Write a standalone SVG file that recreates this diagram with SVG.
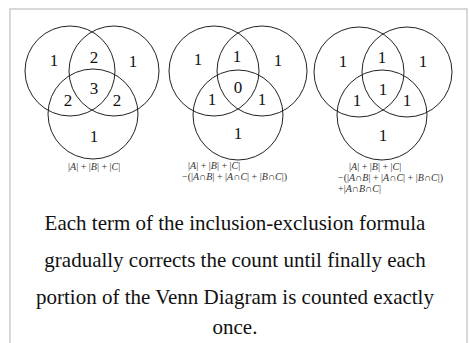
<svg xmlns="http://www.w3.org/2000/svg" width="469" height="343" viewBox="0 0 469 343">
<style>
.c{fill:none;stroke:#222;stroke-width:1}
.n{font-family:"Liberation Serif","DejaVu Serif",serif;font-size:17px;fill:#111;text-anchor:middle}
.f{font-family:"Liberation Serif","DejaVu Serif",serif;font-size:10px;fill:#333}
.f tspan.i{font-style:italic}
.cap{font-family:"Liberation Serif","DejaVu Serif",serif;font-size:21px;fill:#111;text-anchor:middle}
</style>
<rect width="469" height="343" fill="#fff"/>
<path d="M10,343 V9 H467 V343" fill="none" stroke="#ccc" stroke-width="1.5"/>
<g id="venn1">
<circle class="c" cx="70" cy="71" r="45"/>
<circle class="c" cx="114" cy="71" r="45"/>
<circle class="c" cx="93" cy="114" r="45"/>
<text class="n" x="54" y="66">1</text>
<text class="n" x="94" y="63">2</text>
<text class="n" x="133" y="67">1</text>
<text class="n" x="94" y="94">3</text>
<text class="n" x="68" y="106">2</text>
<text class="n" x="117" y="106">2</text>
<text class="n" x="94" y="142">1</text>
<text class="f" x="68" y="170">|<tspan class="i">A</tspan>| + |<tspan class="i">B</tspan>| + |<tspan class="i">C</tspan>|</text>
</g>
<g id="venn2">
<circle class="c" cx="214" cy="71" r="45"/>
<circle class="c" cx="262" cy="71" r="45"/>
<circle class="c" cx="238" cy="115" r="45"/>
<text class="n" x="198" y="65">1</text>
<text class="n" x="237" y="62">1</text>
<text class="n" x="278" y="66">1</text>
<text class="n" x="238" y="93">0</text>
<text class="n" x="212" y="105">1</text>
<text class="n" x="262" y="105">1</text>
<text class="n" x="238" y="139">1</text>
<text class="f" x="188" y="169">|<tspan class="i">A</tspan>| + |<tspan class="i">B</tspan>| + |<tspan class="i">C</tspan>|</text>
<text class="f" x="182" y="180">−(|<tspan class="i">A</tspan>∩<tspan class="i">B</tspan>| + |<tspan class="i">A</tspan>∩<tspan class="i">C</tspan>| + |<tspan class="i">B</tspan>∩<tspan class="i">C</tspan>|)</text>
</g>
<g id="venn3">
<circle class="c" cx="359" cy="72" r="45"/>
<circle class="c" cx="407" cy="72" r="45"/>
<circle class="c" cx="382" cy="115" r="45"/>
<text class="n" x="343" y="67">1</text>
<text class="n" x="382" y="63">1</text>
<text class="n" x="423" y="67">1</text>
<text class="n" x="383" y="95">1</text>
<text class="n" x="357" y="106">1</text>
<text class="n" x="407" y="106">1</text>
<text class="n" x="383" y="141">1</text>
<text class="f" x="349" y="170">|<tspan class="i">A</tspan>| + |<tspan class="i">B</tspan>| + |<tspan class="i">C</tspan>|</text>
<text class="f" x="338" y="181">−(|<tspan class="i">A</tspan>∩<tspan class="i">B</tspan>| + |<tspan class="i">A</tspan>∩<tspan class="i">C</tspan>| + |<tspan class="i">B</tspan>∩<tspan class="i">C</tspan>|)</text>
<text class="f" x="338" y="192">+|<tspan class="i">A</tspan>∩<tspan class="i">B</tspan>∩<tspan class="i">C</tspan>|</text>
</g>
<g id="caption">
<text class="cap" x="235" y="230">Each term of the inclusion-exclusion formula</text>
<text class="cap" x="235" y="267">gradually corrects the count until finally each</text>
<text class="cap" x="235" y="304">portion of the Venn Diagram is counted exactly</text>
<text class="cap" x="235" y="334">once.</text>
</g>
</svg>
